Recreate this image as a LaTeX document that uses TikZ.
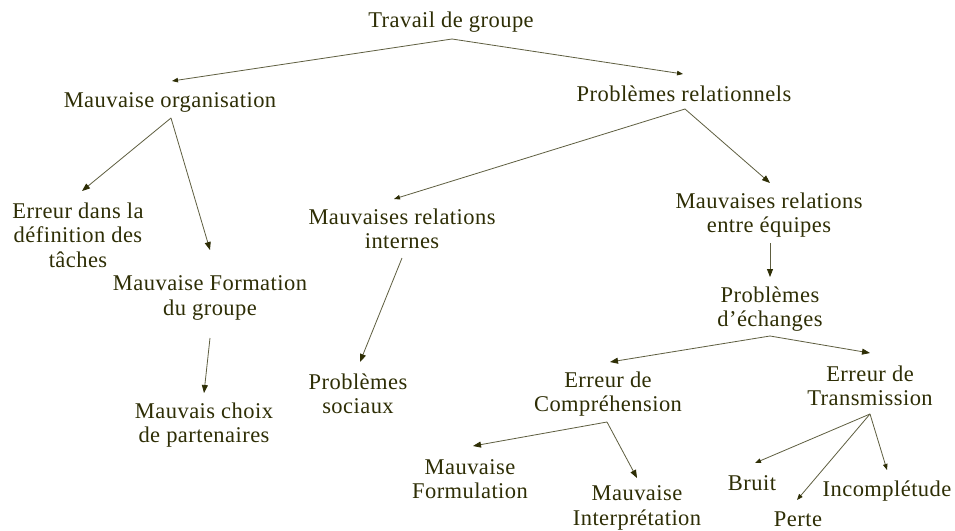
\documentclass[tikz,border=0pt]{standalone}
\usepackage{fontspec}
\setmainfont[LetterSpace=2]{Liberation Serif}
\usetikzlibrary{arrows.meta}
\definecolor{txt}{HTML}{2E2E05}
\definecolor{ln}{HTML}{5E5E40}
\tikzset{
  lbl/.style={inner sep=0pt, align=center, text=txt, font=\fontsize{22.5}{24.5}\selectfont},
  arr/.style={draw=ln, line width=0.8pt, -{Triangle[length=8pt,width=6pt]}, arrows={[fill=txt,color=txt]}},
  sarr/.style={draw=ln, line width=0.8pt, -{Triangle[length=6pt,width=4.5pt]}, arrows={[fill=txt,color=txt]}}
}
\begin{document}
\begin{tikzpicture}[x=1pt,y=-1pt]
\fill[white] (0,0) rectangle (955,530);
\useasboundingbox (0,0) rectangle (955,530);
\node[lbl] (top) at (451,22) {Travail de groupe};
\node[lbl] (org) at (170,102) {Mauvaise organisation};
\node[lbl] (rel) at (684,94) {Problèmes relationnels};
\node[lbl] (err) at (78,235) {Erreur dans la\\définition des\\tâches};
\node[lbl] (form) at (210,298) {Mauvaise Formation\\du groupe};
\node[lbl] (choix) at (204,425) {Mauvais choix\\de partenaires};
\node[lbl] (internes) at (402,229) {Mauvaises relations\\internes};
\node[lbl] (sociaux) at (358,394) {Problèmes\\sociaux};
\node[lbl] (entre) at (769,215) {Mauvaises relations\\entre équipes};
\node[lbl] (echanges) at (770,309) {Problèmes\\d’échanges};
\node[lbl] (compr) at (608,394) {Erreur de\\Compréhension};
\node[lbl] (trans) at (870,386) {Erreur de\\Transmission};
\node[lbl] (formul) at (470,479) {Mauvaise\\Formulation};
\node[lbl] (interp) at (637,508) {Mauvaise\\Interprétation};
\node[lbl] (bruit) at (752,483) {Bruit};
\node[lbl] (perte) at (798,519) {Perte};
\node[lbl] (incompl) at (887,491) {Incomplétude};

\draw[sarr] ([shift={(1,17)}]top.center) -- ([shift={(2,-21)}]org.center);
\draw[sarr] ([shift={(1,17)}]top.center) -- ([shift={(-1,-20)}]rel.center);
\draw[arr] ([shift={(1,16)}]org.center) -- ([shift={(4,-44)}]err.center);
\draw[arr] ([shift={(1,16)}]org.center) -- ([shift={(0,-48)}]form.center);
\draw[arr] ([shift={(0,40)}]form.center) -- ([shift={(0,-32)}]choix.center);
\draw[sarr] ([shift={(1,15)}]rel.center) -- ([shift={(-8,-30)}]internes.center);
\draw[arr] ([shift={(1,15)}]rel.center) -- ([shift={(1,-32)}]entre.center);
\draw[arr] ([shift={(0,29)}]internes.center) -- ([shift={(2,-32)}]sociaux.center);
\draw[arr] ([shift={(1,28)}]entre.center) -- ([shift={(0,-32)}]echanges.center);
\draw[arr] ([shift={(0,27)}]echanges.center) -- ([shift={(2,-32)}]compr.center);
\draw[arr] ([shift={(0,27)}]echanges.center) -- ([shift={(0,-33)}]trans.center);
\draw[arr] ([shift={(-1,28)}]compr.center) -- ([shift={(3,-33)}]formul.center);
\draw[arr] ([shift={(-1,28)}]compr.center) -- ([shift={(0,-30)}]interp.center);
\draw[sarr] ([shift={(0,28)}]trans.center) -- ([shift={(3,-20)}]bruit.center);
\draw[sarr] ([shift={(0,28)}]trans.center) -- ([shift={(-1,-19)}]perte.center);
\draw[sarr] ([shift={(0,28)}]trans.center) -- ([shift={(0,-21)}]incompl.center);
\end{tikzpicture}
\end{document}
